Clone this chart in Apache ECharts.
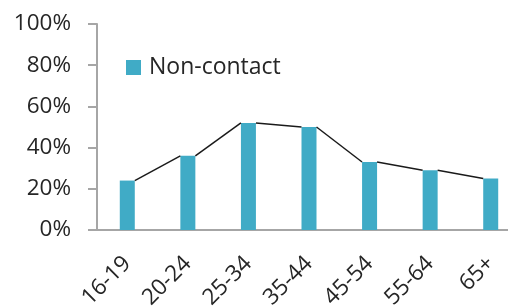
<!DOCTYPE html>
<html>
<head>
<meta charset="utf-8">
<script src="https://cdn.jsdelivr.net/npm/echarts@6/dist/echarts.min.js"></script>
<style>html,body{margin:0;padding:0;background:#fff;}#c{width:508px;height:307px;}</style>
</head>
<body>
<div id="c"></div>
<script>
var categories = ['16-19', '20-24', '25-34', '35-44', '45-54', '55-64', '65+'];
var nonContact = [24, 36, 52, 50, 33, 29, 25];
var yTicks = [0, 20, 40, 60, 80, 100];

var FONT = '"Open Sans", "Liberation Sans", sans-serif';
var BAR_W = 15;
var connectors = [];
for (var i = 0; i < nonContact.length - 1; i++) {
  connectors.push([i, nonContact[i], nonContact[i + 1]]);
}

var chart = echarts.init(document.getElementById('c'), null, {renderer: 'canvas'});
chart.setOption({
  animation: false,
  backgroundColor: '#ffffff',
  grid: {left: 97, top: 24, bottom: 77, width: 424, containLabel: false, outerBoundsMode: 'none'},
  legend: {
    data: ['Non-contact'],
    left: 121, top: 51,
    itemWidth: 15, itemHeight: 15, itemGap: 10,
    icon: 'rect',
    textStyle: {fontFamily: FONT, fontSize: 23, color: '#262626', padding: [0, 0, 0, 3]}
  },
  xAxis: {
    type: 'category',
    data: categories,
    axisLine: {lineStyle: {color: '#A6A6A6', width: 2}},
    axisTick: {show: false},
    axisLabel: {rotate: 45, margin: 30, fontFamily: FONT, fontSize: 22.5, color: '#262626', interval: 0}
  },
  yAxis: {
    type: 'value',
    min: yTicks[0], max: yTicks[yTicks.length - 1], interval: 20,
    axisLine: {show: true, lineStyle: {color: '#A6A6A6', width: 2}},
    axisTick: {show: true, length: 9, lineStyle: {color: '#A6A6A6', width: 2}},
    splitLine: {show: false},
    axisLabel: {margin: 26, fontFamily: FONT, fontSize: 22.5, color: '#262626', formatter: '{value}%'}
  },
  series: [
    {
      name: 'Non-contact',
      type: 'bar',
      data: nonContact,
      barWidth: BAR_W,
      itemStyle: {color: '#40ABC6'}
    },
    {
      name: 'lines',
      type: 'custom',
      data: connectors,
      z: 5,
      renderItem: function (params, api) {
        var a = api.coord([api.value(0), api.value(1)]);
        var b = api.coord([api.value(0) + 1, api.value(2)]);
        return {
          type: 'line',
          shape: {x1: a[0] + BAR_W / 2, y1: a[1], x2: b[0] - BAR_W / 2, y2: b[1]},
          style: {stroke: '#1a1a1a', lineWidth: 1.5}
        };
      }
    }
  ]
});
</script>
</body>
</html>
